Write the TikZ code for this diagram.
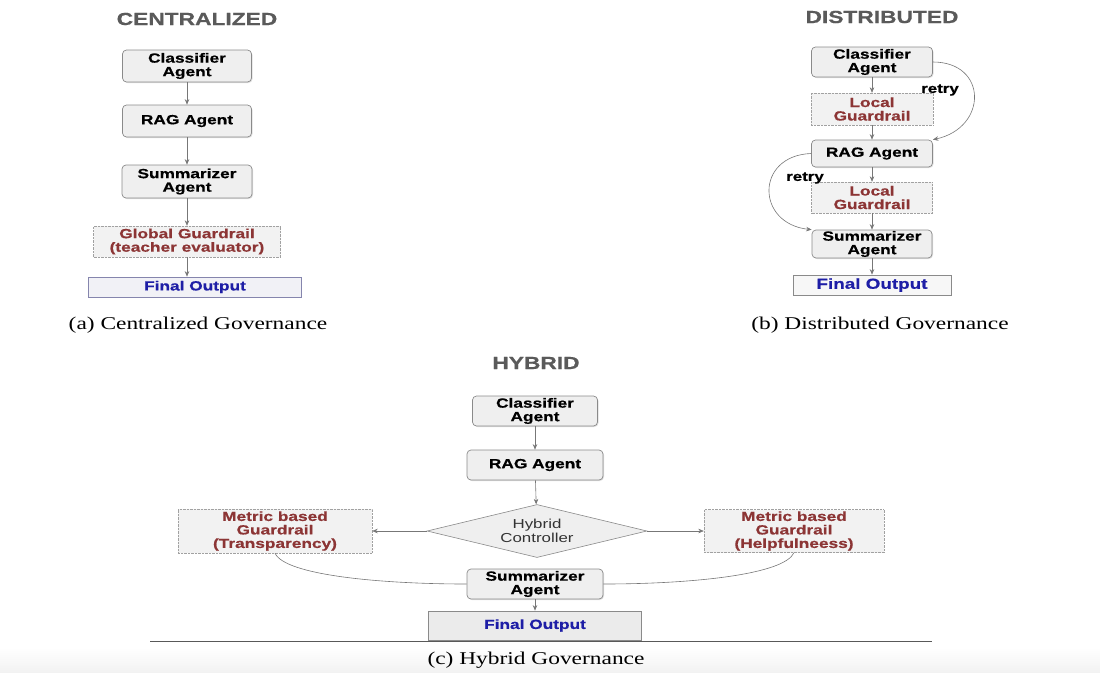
\documentclass[tikz,border=0pt]{standalone}
\usepackage{fontspec}
\setmainfont{Liberation Serif}[FakeStretch=1.3]
\newfontfamily\boxfont{Liberation Sans}[FakeStretch=1.3, BoldFeatures={FakeBold=0.6}]
\usetikzlibrary{positioning, shapes.geometric, arrows.meta, shadows}

\definecolor{boxfill}{HTML}{EFEFEF}
\definecolor{boxline}{HTML}{8A8A8A}
\definecolor{guardred}{HTML}{8C3535}
\definecolor{outblue}{HTML}{1E1EA6}
\definecolor{outfill}{HTML}{EBEBEB}
\definecolor{titlegray}{HTML}{5A5A5A}
\definecolor{wiregray}{HTML}{777777}

\tikzset{
  agent/.style={draw=boxline, line width=0.7pt, fill=boxfill, rounded corners=4pt, align=center, inner sep=0pt,
    font=\boxfont\bfseries\fontsize{13.3}{13.5}\selectfont,
    drop shadow={shadow xshift=1pt, shadow yshift=-1pt, opacity=0.25}},
  guard/.style={draw=boxline!80, densely dotted, fill=boxfill!80!white, align=center, inner sep=0pt,
    text=guardred, font=\boxfont\bfseries\fontsize{13.3}{13.5}\selectfont},
  final/.style={draw=boxline, line width=0.7pt, fill=boxfill!70!white, inner sep=0pt, text=outblue,
    font=\boxfont\bfseries\fontsize{13.3}{13.5}\selectfont},
  ctrl/.style={diamond, aspect=4.15, draw=boxline, line width=0.6pt, fill=boxfill, align=center, inner sep=0pt,
    text=black!80, font=\boxfont\fontsize{13}{13.5}\selectfont},
  ttl/.style={text=titlegray, font=\boxfont\bfseries\fontsize{17.5}{17.5}\selectfont},
  subcap/.style={font=\fontsize{18}{18}\selectfont},
  lbl/.style={font=\boxfont\bfseries\fontsize{13}{13}\selectfont}
}

\begin{document}
\begin{tikzpicture}[x=1pt, y=-1pt, on grid, >={Stealth[length=5.5pt,width=4.5pt]},
  every edge/.style={draw=wiregray, line width=0.6pt}]
  \useasboundingbox (0,0) rectangle (1100,672);
  \shade[top color=white, bottom color=gray!10] (0,648) rectangle (1100,672);

  % centralized
  \node[ttl] (ctitle) at (197,19) {CENTRALIZED};
  \node[agent, minimum width=129pt, minimum height=32pt] (ccls) at (187,66) {Classifier\\Agent};
  \node[agent, minimum width=129pt, minimum height=32pt] (crag) [below=55pt of ccls] {RAG Agent};
  \node[agent, minimum width=130pt, minimum height=33pt] (csum) [below=60.5pt of crag] {Summarizer\\Agent};
  \node[guard, minimum width=187pt, minimum height=31pt] (cglob) [below=60pt of csum] {Global Guardrail\\(teacher evaluator)};
  \node[final, draw=blue!20!gray!80, fill=blue!3!boxfill!60!white, minimum width=213pt, minimum height=20pt] (cout) [below=45.5pt of cglob, xshift=8pt] {Final Output};
  \node[subcap] (ccap) at (198,325) {(a) Centralized Governance};

  \path[->]
    (ccls) edge (crag)
    (crag) edge (csum)
    (csum) edge (cglob)
    (cglob.south) edge (cglob.south |- cout.north);

  % distributed
  \node[ttl] (dtitle) at (882,17) {DISTRIBUTED};
  \node[agent, minimum width=121pt, minimum height=30pt] (dcls) at (872,62) {Classifier\\Agent};
  \node[guard, minimum width=122pt, minimum height=32pt] (dlg1) [below=47pt of dcls] {Local\\Guardrail};
  \node[agent, minimum width=121pt, minimum height=27pt] (drag) [below=44.5pt of dlg1] {RAG Agent};
  \node[guard, minimum width=121pt, minimum height=31pt] (dlg2) [below=44pt of drag] {Local\\Guardrail};
  \node[agent, minimum width=120pt, minimum height=28pt] (dsum) [below=46.5pt of dlg2] {Summarizer\\Agent};
  \node[final, fill=boxfill!50!white, minimum width=158pt, minimum height=20pt,
    font=\boxfont\bfseries\fontsize{14.5}{14.5}\selectfont] (dout) [below=41pt of dsum] {Final Output};
  \node[subcap] (dcap) at (880,325) {(b) Distributed Governance};
  \node[lbl] (dretry1) at (940,90) {retry};
  \node[lbl] (dretry2) at (805,178) {retry};

  \path[->]
    (dcls) edge (dlg1)
    (dlg1) edge (drag)
    (drag) edge (dlg2)
    (dlg2) edge (dsum)
    (dsum) edge (dout);
  \draw[->, draw=wiregray, line width=0.6pt]
    (dcls.east) .. controls +(55,0) and +(55,-12) .. (drag.north east);
  \draw[->, draw=wiregray, line width=0.6pt]
    (drag.west) .. controls +(-56,2) and +(-56,-6) .. (dsum.north west);

  % hybrid
  \node[ttl] (htitle) at (536,363) {HYBRID};
  \node[agent, minimum width=125pt, minimum height=30pt] (hcls) at (535,411) {Classifier\\Agent};
  \node[agent, minimum width=136pt, minimum height=30pt] (hrag) [below=54pt of hcls] {RAG Agent};
  \node[ctrl, minimum width=220pt, minimum height=53pt] (hctl) [below=66pt of hrag, xshift=2pt] {Hybrid\\Controller};
  \node[agent, minimum width=136pt, minimum height=30pt] (hsum) [below=53pt of hctl, xshift=-2pt] {Summarizer\\Agent};
  \node[final, fill=outfill, minimum width=213pt, minimum height=29pt] (hout) [below=41.5pt of hsum] {Final Output};
  \node[guard, minimum width=194pt, minimum height=44pt] (hlg) [left=262pt of hctl] {Metric based\\Guardrail\\(Transparency)};
  \node[guard, minimum width=180pt, minimum height=43pt] (hrg) [right=257pt of hctl] {Metric based\\Guardrail\\(Helpfulneess)};
  \node[subcap] (hcap) at (536,660) {(c) Hybrid Governance};
  \draw[black!65, line width=0.6pt] (150,641) -- (932,641);

  \path[->]
    (hcls) edge (hrag)
    (hrag) edge (hctl)
    (hctl) edge (hlg)
    (hctl) edge (hrg)
    (hsum) edge (hout);
  \draw[draw=wiregray, line width=0.6pt]
    (hlg.south) .. controls +(10,22) and +(-86,0) .. (hsum.west);
  \draw[draw=wiregray, line width=0.6pt]
    (hrg.south) .. controls +(-10,22) and +(88,0) .. (hsum.east);
\end{tikzpicture}
\end{document}
